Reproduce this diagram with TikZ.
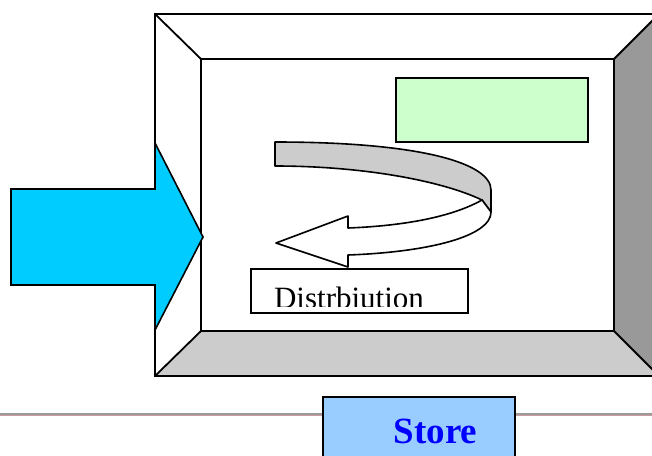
\documentclass[tikz,border=0pt]{standalone}
\usepackage{fontspec}
\setmainfont{Liberation Serif}
\definecolor{cyanarrow}{HTML}{00CCFF}
\definecolor{darkbevel}{HTML}{999999}
\definecolor{lightbevel}{HTML}{CCCCCC}
\definecolor{palegreen}{HTML}{CCFFCC}
\definecolor{paleblue}{HTML}{99CCFF}
\definecolor{rulegray}{HTML}{9A9A9A}
\definecolor{rulepink}{HTML}{CC9A9A}
\tikzset{
  edge/.style={draw=black, line width=1.8pt, line join=miter},
  thin edge/.style={draw=black, line width=1.6pt, line join=round},
  panel/.style={rectangle, draw=black, line width=2pt, inner sep=0pt},
}
\begin{document}
\begin{tikzpicture}[x=1pt, y=-1pt]
\useasboundingbox (0,0) rectangle (652,455);
\clip (0,0) rectangle (652,455);

% outer and inner corners of the bevelled frame
\coordinate (o1) at (155,14);  \coordinate (o2) at (659,14);
\coordinate (o3) at (659,376); \coordinate (o4) at (155,376);
\coordinate (i1) at (201,59);  \coordinate (i2) at (614,59);
\coordinate (i3) at (614,331); \coordinate (i4) at (201,331);

% bevel faces
\fill[white] (o1) -- (o2) -- (i2) -- (i1) -- cycle;
\fill[white] (o1) -- (i1) -- (i4) -- (o4) -- cycle;
\fill[darkbevel] (o2) -- (o3) -- (i3) -- (i2) -- cycle;
\fill[lightbevel] (o4) -- (i4) -- (i3) -- (o3) -- cycle;
\fill[white] (i1) rectangle (i3);
\draw[edge] (o1) -- (o2) -- (o3) -- (o4) -- cycle;
\draw[edge] (i1) -- (i2) -- (i3) -- (i4) -- cycle;
\draw[edge] (o1) -- (i1) (o2) -- (i2) (o3) -- (i3) (o4) -- (i4);

% incoming block arrow
\filldraw[fill=cyanarrow, edge, line width=1.6pt]
  (11,189) -- (155,189) -- (155,143) -- (203,237) -- (155,330)
  -- (155,285) -- (11,285) -- cycle;

% green panel
\node[panel, fill=palegreen, minimum width=192pt, minimum height=64pt]
  (green) at (491.5,109.5) {};

% curved return arrow: back band (grey)
\filldraw[fill=lightbevel, thin edge]
  (275,142) .. controls (420,142) and (491,163) .. (491,190)
  -- (491,212) -- (482,200)
  .. controls (440,180) and (360,166) .. (275,166) -- cycle;
% front band with head (white)
\filldraw[fill=white, thin edge]
  (482,200) .. controls (450,218) and (400,226) .. (348,228)
  -- (348,216) -- (276,243) -- (348,267) -- (348,255)
  .. controls (430,252) and (491,236) .. (491,212) -- cycle;

% distribution box with clipped label
\node[panel, fill=white, minimum width=217pt, minimum height=44pt]
  (dist) at (359.5,291) {};
\begin{scope}
  \clip (252,270) rectangle (467,306);
  \node[anchor=base, inner sep=0pt, font=\fontsize{31}{31}\selectfont]
    (distlabel) at (349,308) {Distrbiution};
\end{scope}

% horizontal rule
\draw[rulegray, line width=2pt] (0,413.5) -- (652,413.5);
\draw[rulepink, line width=1.2pt] (0,415.6) -- (652,415.6);

% store box
\node[panel, fill=paleblue, minimum width=192pt, minimum height=64pt]
  (store) at (419,429) {};
\node[anchor=base, inner sep=0pt, text=blue,
      font=\fontsize{37}{37}\selectfont\bfseries]
  (storelabel) at (435.5,443) {Store};
\end{tikzpicture}
\end{document}
